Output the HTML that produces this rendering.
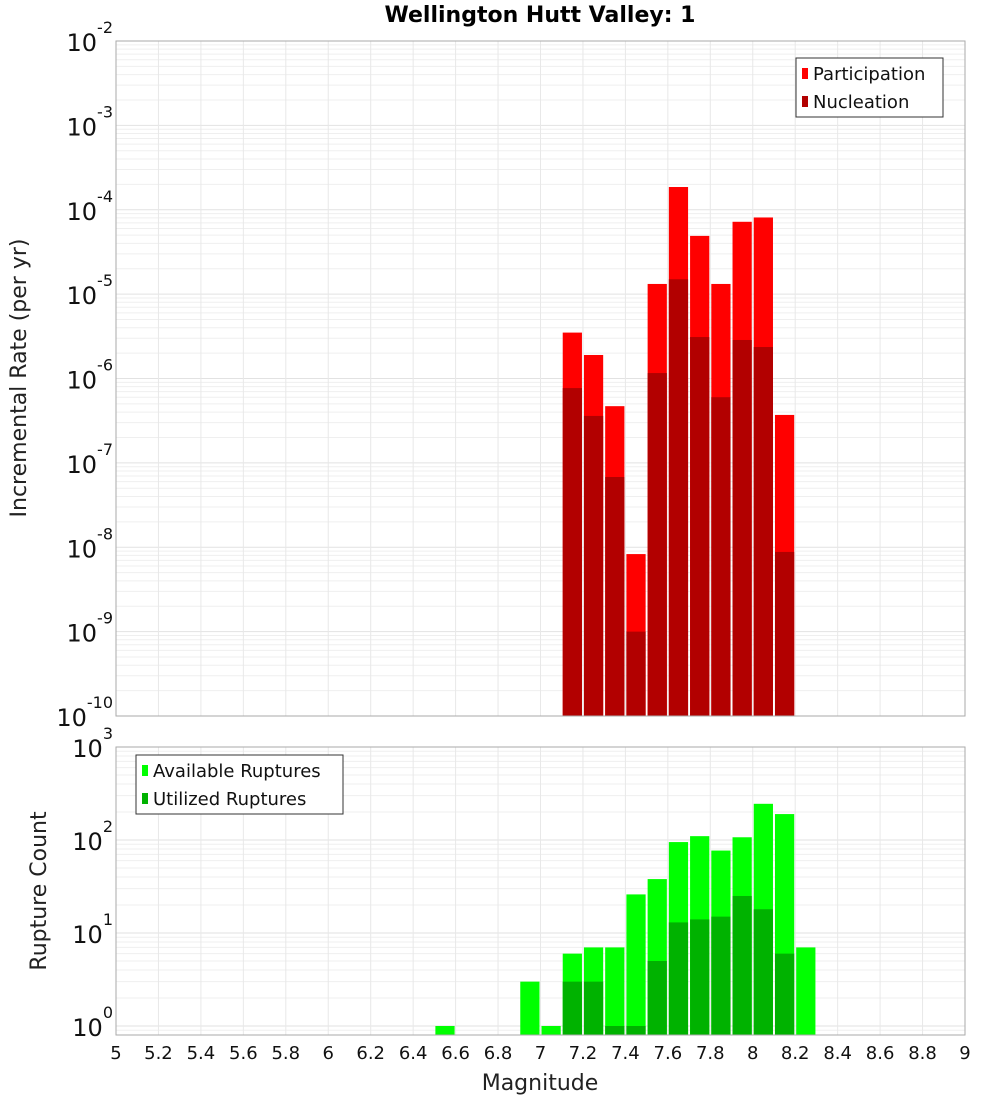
<!DOCTYPE html>
<html><head><meta charset="utf-8"><style>
html,body{margin:0;padding:0;background:#fff}
svg{display:block;font-family:"DejaVu Sans","Liberation Sans",sans-serif}
</style></head><body>
<svg id="chart" width="1000" height="1100" viewBox="0 0 1000 1100" xmlns="http://www.w3.org/2000/svg">
<text x="540" y="22" text-anchor="middle" font-size="22" font-weight="bold">Wellington Hutt Valley: 1</text>
<g id="top"></g><g id="bot"></g>
<text transform="translate(26,378) rotate(-90)" text-anchor="middle" font-size="22" fill="#222">Incremental Rate (per yr)</text>
<text transform="translate(46,891) rotate(-90)" text-anchor="middle" font-size="22" fill="#222">Rupture Count</text>
<text x="540" y="1090" text-anchor="middle" font-size="22" fill="#222">Magnitude</text>
</svg>
<script>
const topMags=[7.15,7.25,7.35,7.45,7.55,7.65,7.75,7.85,7.95,8.05,8.15];
const participation=[3.5e-6,1.9e-6,4.7e-7,8.3e-9,1.32e-5,1.86e-4,4.9e-5,1.32e-5,7.2e-5,8.1e-5,3.7e-7];
const nucleation=[7.7e-7,3.6e-7,6.8e-8,1.0e-9,1.16e-6,1.5e-5,3.1e-6,6.0e-7,2.86e-6,2.36e-6,8.8e-9];
const availMags=[6.55,6.95,7.05,7.15,7.25,7.35,7.45,7.55,7.65,7.75,7.85,7.95,8.05,8.15,8.25];
const available=[1,3,1,6,7,7,26,38,95,110,77,107,245,190,7];
const utilMags=[7.15,7.25,7.35,7.45,7.55,7.65,7.75,7.85,7.95,8.05,8.15];
const utilized=[3,3,1,1,5,13,14,15,25,18,6];
const xTicks=[5,5.2,5.4,5.6,5.8,6,6.2,6.4,6.6,6.8,7,7.2,7.4,7.6,7.8,8,8.2,8.4,8.6,8.8,9];
const topExps=[-2,-3,-4,-5,-6,-7,-8,-9,-10];
const botExps=[3,2,1,0];

const NS="http://www.w3.org/2000/svg";
const X0=116,X1=965;
const xs=m=>X0+(m-5)/4*(X1-X0);
const topY=v=>41+(-2-Math.log10(v))*84.375;
const botY=v=>1026-Math.log10(v)*93;
function mk(parent,tag,attrs){const e=document.createElementNS(NS,tag);for(const k in attrs)e.setAttribute(k,attrs[k]);parent.appendChild(e);return e;}

function panel(g,yT,yB,yf,lo,hi){
  const bg=mk(g,'rect',{x:X0,y:yT,width:X1-X0,height:yB-yT,fill:'#fff'});
  
  
  for(let e=lo;e<hi;e++){for(let k=1;k<10;k++){const y=yf(k*Math.pow(10,e));if(y<yT-0.5||y>yB+0.5)continue;
    const l=mk(g,'line',{x1:X0,x2:X1,y1:y,y2:y,stroke:k==1?'#e2e2e2':'#efefef','stroke-width':1});
    
    }}
  xTicks.forEach(t=>{const l=mk(g,'line',{x1:xs(t),x2:xs(t),y1:yT,y2:yB,stroke:'#e8e8e8','stroke-width':1});
    
    });
}
function bars(g,mags,vals,yf,yB,color,name){
  mags.forEach((m,i)=>{const x=xs(m-0.05)+1,w=xs(m+0.05)-xs(m-0.05)-2,y=yf(vals[i]);
    const r=mk(g,'rect',{x:x,y:y,width:w,height:yB-y,fill:color});
    
    });
}
function frame(g,yT,yB){const r=mk(g,'rect',{x:X0,y:yT,width:X1-X0,height:yB-yT,fill:'none',stroke:'#aaa','stroke-width':1});
  
  }
function ylabel(g,e,y){const t=mk(g,'text',{x:113,y:y+10,'text-anchor':'end','font-size':24,fill:'#111'});
  
  
  const a=mk(t,'tspan',{});a.textContent='10';
  const b=mk(t,'tspan',{dy:-18,'font-size':16});b.textContent=String(e);}
function legend(g,x,y,w,items){
  const r=mk(g,'rect',{x:x,y:y,width:w,height:59,fill:'#fff',stroke:'#333','stroke-width':1});
  
  
  items.forEach((it,i)=>{const s=mk(g,'rect',{x:x+6,y:y+10+i*28,width:6,height:11,fill:it[1]});
    
    
    const t=mk(g,'text',{x:x+17,y:y+22+i*28,'font-size':18,fill:'#111'});
    
    
    t.textContent=it[0];});
}
const gt=document.getElementById('top'),gb=document.getElementById('bot');
panel(gt,41,716,topY,-10,-2);
bars(gt,topMags,participation,topY,716,'#ff0000','participation');
bars(gt,topMags,nucleation,topY,716,'#b20000','nucleation');
frame(gt,41,716);
topExps.forEach(e=>ylabel(gt,e,topY(Math.pow(10,e))));
legend(gt,796,58,147,[['Participation','#ff0000'],['Nucleation','#b20000']]);

panel(gb,747,1035,botY,-1,3);
bars(gb,availMags,available,botY,1035,'#00ff00','available');
bars(gb,utilMags,utilized,botY,1035,'#00b200','utilized');
frame(gb,747,1035);
botExps.forEach(e=>ylabel(gb,e,botY(Math.pow(10,e))));
legend(gb,136,755,207,[['Available Ruptures','#00ff00'],['Utilized Ruptures','#00b200']]);
xTicks.forEach(t=>{const tx=mk(gb,'text',{x:xs(t),y:1059,'text-anchor':'middle','font-size':18,fill:'#111'});
  
  
  tx.textContent=String(t);});
</script>
</body></html>
